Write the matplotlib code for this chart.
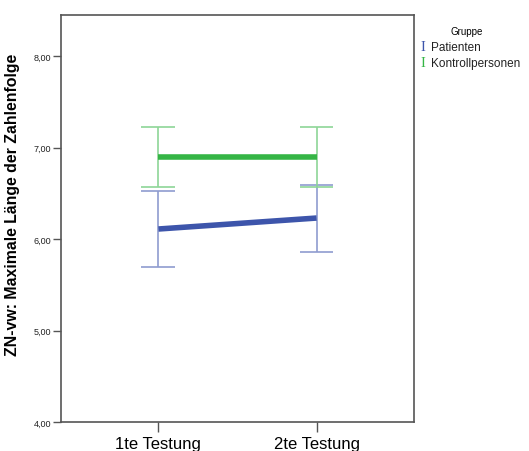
import matplotlib.pyplot as plt
from matplotlib.ticker import FuncFormatter

plt.rcParams['font.family'] = ['Liberation Sans', 'DejaVu Sans']

# Mittelwerte und 95%-KI je Gruppe und Testzeitpunkt
testungen = ['1te Testung', '2te Testung']
gruppen = ['Patienten', 'Kontrollpersonen']
mittel_pat = [6.11, 6.23]
ki_unten_pat = [5.69, 5.86]
ki_oben_pat = [6.53, 6.59]
mittel_kon = [6.90, 6.90]
ki_unten_kon = [6.57, 6.57]
ki_oben_kon = [7.22, 7.22]

farben = ['#3D55AB', '#35B545']
ki_farben = ['#8F9CCF', '#8ED697']

fig = plt.figure(figsize=(5.29, 4.52), dpi=100)
ax = fig.add_axes([0.1153, 0.0642, 0.6673, 0.9004])

x = [1, 2]
daten = [(mittel_pat, ki_unten_pat, ki_oben_pat), (mittel_kon, ki_unten_kon, ki_oben_kon)]
for (m, lo, hi), c, kc in zip(daten, farben, ki_farben):
    ax.vlines(x, lo, hi, color=kc, lw=1.2, zorder=2)
    ax.hlines(lo, [v - 0.107 for v in x], [v + 0.107 for v in x], color=kc, lw=1.2, zorder=2)
    ax.hlines(hi, [v - 0.107 for v in x], [v + 0.107 for v in x], color=kc, lw=1.2, zorder=2)
    ax.plot(x, m, color=c, lw=4, solid_capstyle='butt', zorder=3)

ax.set_xlim(0.384, 2.616)
ax.set_ylim(4, 8.45)
ax.set_xticks(x)
ax.set_xticklabels(testungen, fontsize=12)
ax.set_yticks([4, 5, 6, 7, 8])
ax.yaxis.set_major_formatter(FuncFormatter(lambda v, p: f'{v:.2f}'.replace('.', ',')))
ax.tick_params(axis='y', labelsize=6.5, length=6, width=1, color='#555555', pad=1, labelcolor='#222222')
ax.tick_params(axis='x', length=7, width=1, color='#555555', pad=3)
ax.set_ylabel('ZN-vw: Maximale Länge der Zahlenfolge', fontsize=11.4, fontweight='bold')
ax.yaxis.set_label_coords(-0.116, 0.536)
for s in ax.spines.values():
    s.set_color('#555555')
    s.set_linewidth(1.2)

# Legende rechts neben dem Diagramm
fig.text(467 / 529, 1 - 32 / 452, 'Gruppe', fontsize=7, ha='center', va='center')
for i, (g, c) in enumerate(zip(gruppen, farben)):
    y = 1 - (48 + i * 15.5) / 452
    fig.text(423 / 529, y, 'I', color=c, fontsize=10.5, family='Liberation Serif', ha='center', va='center')
    fig.text(431 / 529, y, g, fontsize=8.5, ha='left', va='center', color='#222222')

fig.savefig('out.png', dpi=100)
